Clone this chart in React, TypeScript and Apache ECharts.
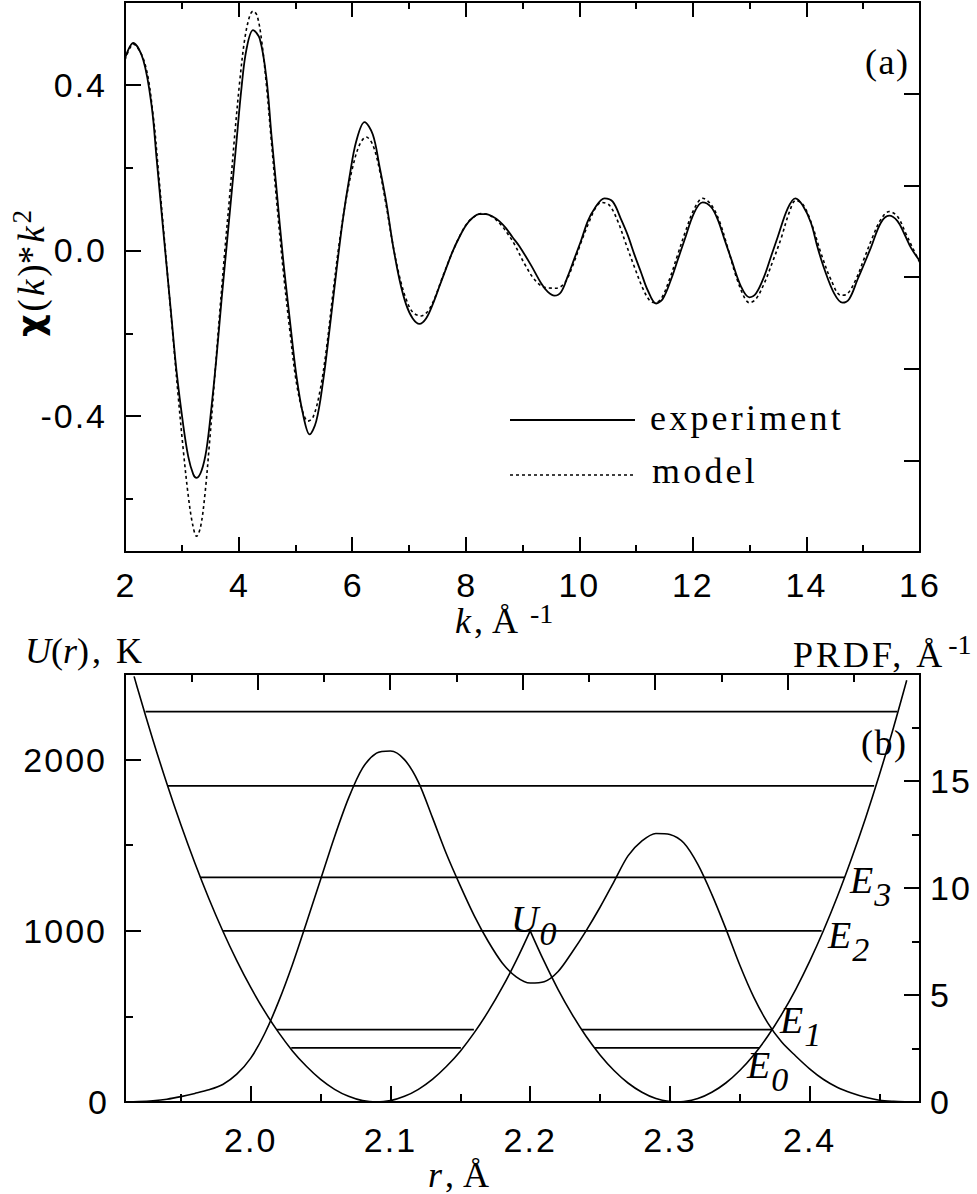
import React, { useEffect, useRef } from "react";
import * as echarts from "echarts";

// ---- panel (a): chi(k)*k^2 ----
const kExp = [2.0, 2.146, 2.322, 2.469, 2.557, 2.644, 2.732, 2.82, 2.908, 3.025, 3.113, 3.201, 3.26, 3.347, 3.435, 3.523, 3.611, 3.699, 3.787, 3.875, 3.963, 4.05, 4.138, 4.255, 4.373, 4.49, 4.578, 4.666, 4.783, 4.9, 5.017, 5.134, 5.251, 5.368, 5.486, 5.603, 5.72, 5.837, 5.954, 6.071, 6.218, 6.364, 6.482, 6.599, 6.716, 6.833, 6.95, 7.067, 7.185, 7.302, 7.419, 7.536, 7.653, 7.77, 7.887, 8.005, 8.122, 8.239, 8.356, 8.473, 8.591, 8.708, 8.825, 8.942, 9.152, 9.328, 9.446, 9.563, 9.68, 9.798, 9.915, 10.032, 10.15, 10.267, 10.443, 10.589, 10.736, 10.853, 10.971, 11.088, 11.205, 11.352, 11.469, 11.616, 11.733, 11.85, 12.026, 12.173, 12.32, 12.437, 12.554, 12.672, 12.848, 12.994, 13.111, 13.258, 13.375, 13.493, 13.669, 13.804, 13.933, 14.079, 14.197, 14.314, 14.49, 14.636, 14.754, 14.9, 15.018, 15.135, 15.311, 15.457, 15.604, 15.721, 15.839, 16.0];
const chiExp = [0.464, 0.501, 0.46, 0.349, 0.221, 0.092, -0.036, -0.164, -0.292, -0.421, -0.497, -0.54, -0.549, -0.532, -0.48, -0.378, -0.258, -0.121, 0.007, 0.135, 0.263, 0.391, 0.485, 0.532, 0.511, 0.417, 0.28, 0.152, -0.019, -0.164, -0.301, -0.395, -0.444, -0.412, -0.318, -0.19, -0.053, 0.075, 0.178, 0.263, 0.31, 0.28, 0.203, 0.118, 0.015, -0.07, -0.13, -0.164, -0.177, -0.164, -0.13, -0.087, -0.044, -0.002, 0.032, 0.061, 0.079, 0.088, 0.088, 0.082, 0.071, 0.054, 0.032, 0.011, -0.036, -0.079, -0.1, -0.109, -0.1, -0.062, -0.019, 0.024, 0.071, 0.101, 0.126, 0.118, 0.075, 0.037, -0.01, -0.053, -0.096, -0.128, -0.117, -0.07, -0.023, 0.024, 0.092, 0.116, 0.105, 0.075, 0.028, -0.019, -0.087, -0.113, -0.104, -0.062, -0.015, 0.032, 0.101, 0.126, 0.109, 0.067, 0.007, -0.044, -0.104, -0.126, -0.117, -0.07, -0.032, 0.007, 0.067, 0.084, 0.071, 0.041, 0.007, -0.026];

const kModel = [2.0, 2.146, 2.351, 2.498, 2.586, 2.674, 2.762, 2.849, 2.937, 3.025, 3.113, 3.189, 3.26, 3.33, 3.406, 3.494, 3.582, 3.67, 3.757, 3.845, 3.933, 4.021, 4.109, 4.197, 4.255, 4.326, 4.402, 4.49, 4.578, 4.666, 4.783, 4.9, 5.017, 5.134, 5.222, 5.31, 5.427, 5.544, 5.661, 5.779, 5.896, 6.013, 6.13, 6.247, 6.364, 6.482, 6.599, 6.716, 6.833, 6.95, 7.067, 7.214, 7.331, 7.448, 7.565, 7.683, 7.8, 7.917, 8.034, 8.151, 8.268, 8.386, 8.503, 8.62, 8.737, 8.859, 9.035, 9.211, 9.387, 9.592, 9.739, 9.886, 10.032, 10.179, 10.296, 10.396, 10.531, 10.677, 10.824, 10.971, 11.117, 11.235, 11.323, 11.44, 11.587, 11.733, 11.88, 12.026, 12.173, 12.32, 12.467, 12.613, 12.76, 12.906, 12.994, 13.111, 13.258, 13.405, 13.551, 13.698, 13.815, 13.95, 14.108, 14.255, 14.431, 14.607, 14.725, 14.871, 15.018, 15.164, 15.311, 15.457, 15.604, 15.751, 15.868, 16.0];
const chiModel = [0.46, 0.498, 0.451, 0.323, 0.195, 0.058, -0.079, -0.215, -0.352, -0.48, -0.591, -0.66, -0.69, -0.668, -0.591, -0.455, -0.301, -0.147, -0.002, 0.135, 0.28, 0.409, 0.511, 0.567, 0.578, 0.567, 0.511, 0.4, 0.263, 0.126, -0.044, -0.19, -0.318, -0.391, -0.412, -0.403, -0.344, -0.241, -0.104, 0.024, 0.126, 0.203, 0.255, 0.274, 0.255, 0.195, 0.109, 0.015, -0.062, -0.117, -0.149, -0.158, -0.147, -0.117, -0.074, -0.032, 0.007, 0.041, 0.067, 0.082, 0.089, 0.087, 0.078, 0.062, 0.041, 0.015, -0.032, -0.07, -0.089, -0.091, -0.079, -0.036, 0.02, 0.071, 0.105, 0.116, 0.109, 0.071, 0.015, -0.04, -0.091, -0.12, -0.126, -0.117, -0.07, -0.01, 0.05, 0.101, 0.126, 0.111, 0.071, 0.007, -0.062, -0.113, -0.126, -0.117, -0.079, -0.027, 0.028, 0.092, 0.121, 0.109, 0.058, -0.006, -0.07, -0.108, -0.104, -0.07, -0.019, 0.032, 0.075, 0.094, 0.082, 0.041, 0.007, -0.03];

// ---- panel (b): potential U(r) and PRDF ----
const rPotLeft = [1.9165, 1.92, 1.93, 1.94, 1.95, 1.96, 1.97, 1.98, 1.99, 2.0, 2.01, 2.02, 2.03, 2.04, 2.05, 2.06, 2.07, 2.08, 2.09, 2.1, 2.11, 2.12, 2.13, 2.14, 2.15, 2.16, 2.17, 2.18, 2.19, 2.2];
const uPotLeft = [2486, 2387, 2115, 1859, 1619, 1396, 1189, 999, 826, 669, 529, 405, 297, 207, 132, 74, 33, 8, 0, 8, 33, 74, 132, 207, 297, 405, 529, 669, 826, 1000];
const rPotRight = [2.2, 2.21, 2.22, 2.23, 2.24, 2.25, 2.26, 2.27, 2.28, 2.29, 2.3, 2.305, 2.31, 2.32, 2.33, 2.34, 2.35, 2.36, 2.37, 2.38, 2.39, 2.4, 2.41, 2.42, 2.43, 2.44, 2.45, 2.46, 2.4695];
const uPotRight = [1000, 821, 657, 512, 384, 275, 184, 111, 57, 20, 2, 0, 2, 20, 57, 111, 184, 275, 384, 512, 657, 821, 1003, 1203, 1422, 1658, 1913, 2186, 2463];

const rPrdf = [1.91, 1.92, 1.93, 1.94, 1.95, 1.96, 1.97, 1.98, 1.99, 2.0, 2.01, 2.02, 2.03, 2.04, 2.05, 2.06, 2.07, 2.08, 2.09, 2.1, 2.11, 2.12, 2.13, 2.14, 2.15, 2.16, 2.17, 2.18, 2.19, 2.2, 2.21, 2.22, 2.23, 2.24, 2.25, 2.26, 2.27, 2.28, 2.29, 2.3, 2.31, 2.32, 2.33, 2.34, 2.35, 2.36, 2.37, 2.38, 2.39, 2.4, 2.41, 2.42, 2.43, 2.44, 2.45, 2.46, 2.47, 2.479];
const prdf = [0.0, 0.02, 0.06, 0.13, 0.25, 0.4, 0.57, 0.82, 1.3, 2.05, 3.2, 4.7, 6.45, 8.4, 10.4, 12.4, 14.2, 15.6, 16.3, 16.4, 16.0, 14.95, 13.3, 11.6, 10.1, 8.7, 7.5, 6.5, 5.85, 5.56, 5.62, 6.1, 7.0, 8.0, 9.1, 10.3, 11.5, 12.2, 12.55, 12.5, 12.1, 11.1, 9.7, 8.1, 6.4, 4.9, 3.7, 2.8, 2.15, 1.55, 1.05, 0.68, 0.42, 0.22, 0.08, 0.03, 0.01, 0.0];

// energy levels (horizontal segments): from r, to r, energy (K)
const levelFrom = [2.029, 2.2463, 2.0188, 2.2371, 1.9802, 1.9636, 1.9405, 1.9247];
const levelTo = [2.1504, 2.3638, 2.1597, 2.3732, 2.4086, 2.4252, 2.4462, 2.4627];
const levelU = [316, 316, 423, 423, 1000, 1312, 1846, 2280];

// ticks
const chiTicks = [-0.4, 0, 0.4];
const chiMinor = [-0.6, -0.2, 0.2];
const rTicks = [2.0, 2.1, 2.2, 2.3, 2.4];
const rMinor = [1.95, 2.05, 2.15, 2.25, 2.35, 2.45];
const uTicks = [0, 1000, 2000];
const uMinor = [500, 1500];
const prdfTicks = [0, 5, 10, 15];
const prdfMinor = [2.5, 7.5, 12.5, 17.5];

const BLACK = "#000";
const SANS = "'Liberation Sans', Arial, sans-serif";
const SERIF = "'Liberation Serif', 'Times New Roman', serif";

// letter spacing (px) to mimic the spaced typesetting of the original
const SPACING: Record<string, number> = {
  experiment: 3.2,
  model: 3.2,
  "(a)": 1.5,
  "(b)": 1.5,
  "PRDF, Å": 3,
  "), K": 3,
};

const zip = (a: number[], b: number[]) => a.map((v, i) => [v, b[i]]);

const lineSt = { color: BLACK, width: 2 };
const tickLabel = { fontSize: 34, fontFamily: SANS, color: BLACK };

function baseAxis(o: any) {
  return {
    type: "value",
    axisLine: { show: true, onZero: false, lineStyle: lineSt },
    splitLine: { show: false },
    minorSplitLine: { show: false },
    ...o,
  };
}

function txt(x: number, y: number, text: string, rich: any, opts: any = {}) {
  return {
    type: "text",
    x,
    y,
    silent: true,
    z: 100,
    rotation: opts.rotation || 0,
    style: {
      text,
      rich,
      fill: BLACK,
      align: opts.align || "left",
      verticalAlign: "middle",
      textAlign: opts.align || "left",
      textVerticalAlign: "middle",
      fontFamily: SERIF,
      fontSize: 36,
    },
  };
}

const R = (size: number, italic = false, extra: any = {}) => ({
  fontSize: size,
  fontFamily: SERIF,
  fontStyle: italic ? "italic" : "normal",
  color: BLACK,
  lineHeight: size,
  ...extra,
});

function subLabel(x: number, y: number, main: string, sub: string) {
  return txt(x, y, `{m|${main}}{s|${sub}}`, {
    m: R(38, true),
    s: R(34, true, { padding: [28, 0, 0, 1] }),
  });
}

export default function App() {
  const ref = useRef<HTMLDivElement>(null);
  useEffect(() => {
    if (!ref.current) return;
    const chart = echarts.init(ref.current, undefined, { renderer: "svg" });

    const levelSeries = levelU.map((u, i) => ({
      type: "line",
      xAxisIndex: 2,
      yAxisIndex: 3,
      data: [
        [levelFrom[i], u],
        [levelTo[i], u],
      ],
      showSymbol: false,
      silent: true,
      lineStyle: { color: BLACK, width: 1.8 },
    }));

    const option: any = {
      animation: false,
      backgroundColor: "#fff",
      grid: [
        { left: 125, top: 2, width: 795, height: 550 },
        { left: 125, top: 674, width: 795, height: 428 },
      ],
      xAxis: [
        baseAxis({
          gridIndex: 0, position: "bottom", min: 2, max: 16, interval: 2,
          axisTick: { show: true, inside: true, length: 15, lineStyle: lineSt },
          minorTick: { show: true, splitNumber: 2, length: 7, lineStyle: lineSt },
          axisLabel: { ...tickLabel, margin: 16 },
        }),
        baseAxis({
          gridIndex: 0, position: "top", min: 2, max: 16, interval: 2,
          axisTick: { show: true, inside: true, length: 15, lineStyle: lineSt },
          minorTick: { show: true, splitNumber: 2, length: 7, lineStyle: lineSt },
          axisLabel: { show: false },
        }),
        baseAxis({
          gridIndex: 1, position: "bottom", min: 1.91, max: 2.479,
          axisTick: { show: true, inside: true, length: 16, lineStyle: lineSt, customValues: rTicks },
          axisLabel: { ...tickLabel, margin: 21, customValues: rTicks, formatter: (v: number) => v.toFixed(1) },
        }),
        baseAxis({
          gridIndex: 1, position: "bottom", min: 1.91, max: 2.479,
          axisTick: { show: true, inside: true, length: 8, lineStyle: lineSt, customValues: rMinor },
          axisLabel: { show: false },
        }),
        baseAxis({
          gridIndex: 1, position: "top", min: 0, max: 6, interval: 1,
          axisTick: { show: true, inside: true, length: 16, lineStyle: lineSt },
          minorTick: { show: true, splitNumber: 2, length: 8, lineStyle: lineSt },
          axisLabel: { show: false },
        }),
      ],
      yAxis: [
        baseAxis({
          gridIndex: 0, position: "left", min: -0.728, max: 0.6,
          axisTick: { show: true, inside: true, length: 16, lineStyle: lineSt, customValues: chiTicks },
          axisLabel: { ...tickLabel, margin: 18, customValues: chiTicks, formatter: (v: number) => v.toFixed(1) },
        }),
        baseAxis({
          gridIndex: 0, position: "left", min: -0.728, max: 0.6,
          axisTick: { show: true, inside: true, length: 8, lineStyle: lineSt, customValues: chiMinor },
          axisLabel: { show: false },
        }),
        baseAxis({
          gridIndex: 0, position: "right", min: 0, max: 6, interval: 1,
          axisTick: { show: true, inside: true, length: 16, lineStyle: lineSt },
          axisLabel: { show: false },
        }),
        baseAxis({
          gridIndex: 1, position: "left", min: 0, max: 2500,
          axisTick: { show: true, inside: true, length: 16, lineStyle: lineSt, customValues: uTicks },
          axisLabel: { ...tickLabel, margin: 18, customValues: uTicks, formatter: (v: number) => String(v) },
        }),
        baseAxis({
          gridIndex: 1, position: "left", min: 0, max: 2500,
          axisTick: { show: true, inside: true, length: 8, lineStyle: lineSt, customValues: uMinor },
          axisLabel: { show: false },
        }),
        baseAxis({
          gridIndex: 1, position: "right", min: 0, max: 20,
          axisTick: { show: true, inside: true, length: 16, lineStyle: lineSt, customValues: prdfTicks },
          axisLabel: { ...tickLabel, margin: 10, customValues: prdfTicks, formatter: (v: number) => String(v) },
        }),
        baseAxis({
          gridIndex: 1, position: "right", min: 0, max: 20,
          axisTick: { show: true, inside: true, length: 8, lineStyle: lineSt, customValues: prdfMinor },
          axisLabel: { show: false },
        }),
      ],
      series: [
        {
          name: "experiment", type: "line", xAxisIndex: 0, yAxisIndex: 0,
          data: zip(kExp, chiExp), smooth: 0.35, showSymbol: false, silent: true,
          lineStyle: { color: BLACK, width: 1.8 }, z: 4,
        },
        {
          name: "model", type: "line", xAxisIndex: 0, yAxisIndex: 0,
          data: zip(kModel, chiModel), smooth: 0.35, showSymbol: false, silent: true,
          lineStyle: { color: BLACK, width: 1.6, type: [3, 3] }, z: 3,
        },
        {
          name: "U left", type: "line", xAxisIndex: 2, yAxisIndex: 3,
          data: zip(rPotLeft, uPotLeft), smooth: 0.35, showSymbol: false, silent: true,
          lineStyle: { color: BLACK, width: 1.6 },
        },
        {
          name: "U right", type: "line", xAxisIndex: 2, yAxisIndex: 3,
          data: zip(rPotRight, uPotRight), smooth: 0.35, showSymbol: false, silent: true,
          lineStyle: { color: BLACK, width: 1.6 },
        },
        {
          name: "PRDF", type: "line", xAxisIndex: 2, yAxisIndex: 5,
          data: zip(rPrdf, prdf), smooth: 0.3, showSymbol: false, silent: true,
          lineStyle: { color: BLACK, width: 1.6 },
        },
        ...levelSeries,
      ],
      graphic: [
        // panel labels
        txt(865, 62, "(a)", { n: R(36) }),
        txt(861, 743, "(b)", { n: R(36) }),
        // legend
        { type: "line", silent: true, shape: { x1: 510, y1: 420, x2: 635, y2: 420 }, style: { stroke: BLACK, lineWidth: 1.8 } },
        { type: "line", silent: true, shape: { x1: 510, y1: 475, x2: 635, y2: 475 }, style: { stroke: BLACK, lineWidth: 1.6, lineDash: [3, 3] } },
        txt(650, 418, "experiment", { n: R(36) }),
        txt(652, 471, "model", { n: R(36) }),
        // axis names
        txt(455, 621, "{i|k}{n|, Å}{s|-1}", { i: R(36, true), n: R(36, false, { padding: [0, 0, 0, 3] }), s: R(28, false, { padding: [0, 0, 15, 12] }) }),
        txt(428, 1175, "{i|r}{n|, Å}", { i: R(36, true), n: R(36, false, { padding: [0, 0, 0, 3] }) }),
        txt(25, 651, "{i|U}{n|(}{i|r}{n|), K}", { i: R(36, true), n: R(36) }),
        txt(793, 655, "{n|PRDF, Å}{s|-1}", { n: R(36), s: R(28, false, { padding: [0, 0, 22, 24] }) }),
        txt(31, 337, "{c|χ}{n|(}{i|k}{n|)*}{i|k}{s|2}", {
          c: { fontSize: 35, fontFamily: "'DejaVu Sans', sans-serif", fontWeight: "bold", color: BLACK, lineHeight: 35 },
          n: R(37, false, { padding: [0, 0, 0, 3] }),
          i: R(37, true, { padding: [0, 0, 0, 3] }),
          s: R(27, false, { padding: [0, 0, 18, 3] }),
        }, { rotation: Math.PI / 2 }),
        // level labels
        subLabel(850, 880, "E", "3"),
        subLabel(828, 935, "E", "2"),
        subLabel(780, 1020, "E", "1"),
        subLabel(747, 1065, "E", "0"),
        subLabel(511, 919, "U", "0"),
      ],
    };
    chart.setOption(option);

    // widen the letter spacing of a few texts, as in the original typesetting
    const texts = ref.current.querySelectorAll("text");
    texts.forEach((t) => {
      const content = t.textContent || "";
      const s = SPACING[content];
      if (s) {
        t.setAttribute("letter-spacing", `${s}px`);
      } else {
        const styleAttr = (t.getAttribute("style") || "") + (t.getAttribute("font-family") || "");
        if (/^-?[0-9.]{2,}$/.test(content) && styleAttr.indexOf("Liberation Sans") >= 0) {
          t.setAttribute("letter-spacing", "2px");
        }
      }
    });

    return () => chart.dispose();
  }, []);
  return (
    <div
      ref={ref}
      style={{ position: "absolute", left: 0, top: 0, width: 977, height: 1194, background: "#fff" }}
    />
  );
}
